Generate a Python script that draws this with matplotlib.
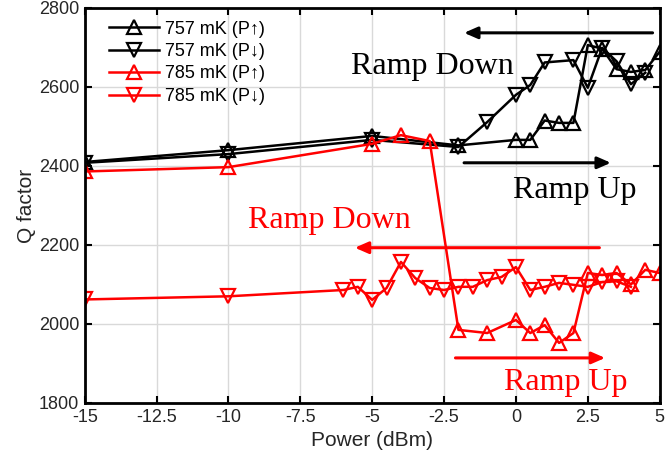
import numpy as np
import matplotlib
matplotlib.use("Agg")
import matplotlib.pyplot as plt

# 757 mK, power ramped up
p_757_up = [-15, -10, -5, -2, 0, 0.5, 1.0, 1.5, 2.0, 2.5, 3.0, 3.5, 4.0, 4.5, 5.0]
q_757_up = [2410, 2440, 2476, 2452, 2466, 2466, 2515, 2509, 2509, 2706, 2697, 2645, 2638, 2643, 2689]

# 757 mK, power ramped down
p_757_dn = [4.5, 4.0, 3.5, 3.0, 2.5, 2.0, 1.0, 0.5, 0, -1, -2, -5, -10, -15]
q_757_dn = [2636, 2607, 2665, 2699, 2598, 2668, 2662, 2605, 2580, 2511, 2448, 2466, 2430, 2408]

# 785 mK, power ramped up
p_785_up = [-15, -10, -5, -4, -3, -2, -1, 0, 0.5, 1.0, 1.5, 2.0, 2.5, 3.0, 3.5, 4.0, 4.5, 5.0]
q_785_up = [2386, 2397, 2456, 2478, 2463, 1985, 1977, 2010, 1977, 1997, 1952, 1977,
            2129, 2124, 2129, 2100, 2137, 2129]

# 785 mK, power ramped down
p_785_dn = [4.0, 3.5, 3.0, 2.5, 2.0, 1.5, 1.0, 0.5, 0, -0.5, -1, -1.5, -2, -2.5, -3,
            -3.5, -4, -4.5, -5, -5.5, -6, -10, -15]
q_785_dn = [2094, 2108, 2106, 2094, 2099, 2104, 2094, 2086, 2144, 2119, 2111, 2094, 2094,
            2086, 2091, 2116, 2157, 2091, 2061, 2094, 2086, 2070, 2062]

xticks = [-15, -12.5, -10, -7.5, -5, -2.5, 0, 2.5, 5]
xtick_labels = ['-15', '-12.5', '-10', '-7.5', '-5', '-2.5', '0', '2.5', '5']
yticks = [1800, 2000, 2200, 2400, 2600, 2800]

plt.rcParams['font.family'] = ['Liberation Sans', 'DejaVu Sans']

fig = plt.figure(figsize=(6.67, 4.68), dpi=100)
ax = fig.add_axes([0.127, 0.139, 0.862, 0.844])

red = '#ff0000'
mk = dict(markersize=10, markerfacecolor='none', markeredgewidth=1.6, linewidth=1.8)

ax.plot(p_757_up, q_757_up, '-^', color='black', label='757 mK (P\u2191)', **mk)
ax.plot(p_757_dn, q_757_dn, '-v', color='black', label='757 mK (P\u2193)', **mk)
ax.plot(p_785_up, q_785_up, '-^', color=red, label='785 mK (P\u2191)', **mk)
ax.plot(p_785_dn, q_785_dn, '-v', color=red, label='785 mK (P\u2193)', **mk)

# ramp direction arrows and labels
arrow_k = dict(arrowstyle='-|>,head_length=0.8,head_width=0.35', lw=2.2)
serif = dict(fontsize=23, family='Liberation Serif', ha='center', va='center')

ax.annotate('', xy=(-1.9, 2737), xytext=(4.85, 2737),
            arrowprops=dict(color='black', **arrow_k))
ax.text(-2.9, 2652, 'Ramp Down', color='black', **serif)
ax.annotate('', xy=(3.4, 2408), xytext=(-1.9, 2408),
            arrowprops=dict(color='black', **arrow_k))
ax.text(2.05, 2337, 'Ramp Up', color='black', **serif)

ax.annotate('', xy=(-5.7, 2193), xytext=(3.0, 2193),
            arrowprops=dict(color=red, **arrow_k))
ax.text(-6.5, 2262, 'Ramp Down', color=red, **serif)
ax.annotate('', xy=(3.2, 1914), xytext=(-2.2, 1914),
            arrowprops=dict(color=red, **arrow_k))
ax.text(1.75, 1851, 'Ramp Up', color=red, **serif)

ax.set_xlim(-15, 5)
ax.set_ylim(1800, 2800)
ax.set_xticks(xticks)
ax.set_xticklabels(xtick_labels)
ax.set_yticks(yticks)
ax.grid(True, color='#d9d9d9', linewidth=1.0)
ax.set_axisbelow(True)
ax.tick_params(direction='in', top=True, right=True, length=5, width=1.5,
               labelsize=13, colors='black', labelcolor='#262626', pad=4)
for sp in ax.spines.values():
    sp.set_linewidth(2.0)

ax.set_xlabel('Power (dBm)', fontsize=15, color='#262626', labelpad=4)
ax.set_ylabel('Q factor', fontsize=15, color='#262626', labelpad=2)

leg = ax.legend(loc='upper left', bbox_to_anchor=(0.02, 1.0), frameon=False,
                fontsize=13, handlelength=2.8, borderaxespad=0.3,
                labelspacing=0.3, handletextpad=0.3)

fig.savefig('out.png', dpi=100)
